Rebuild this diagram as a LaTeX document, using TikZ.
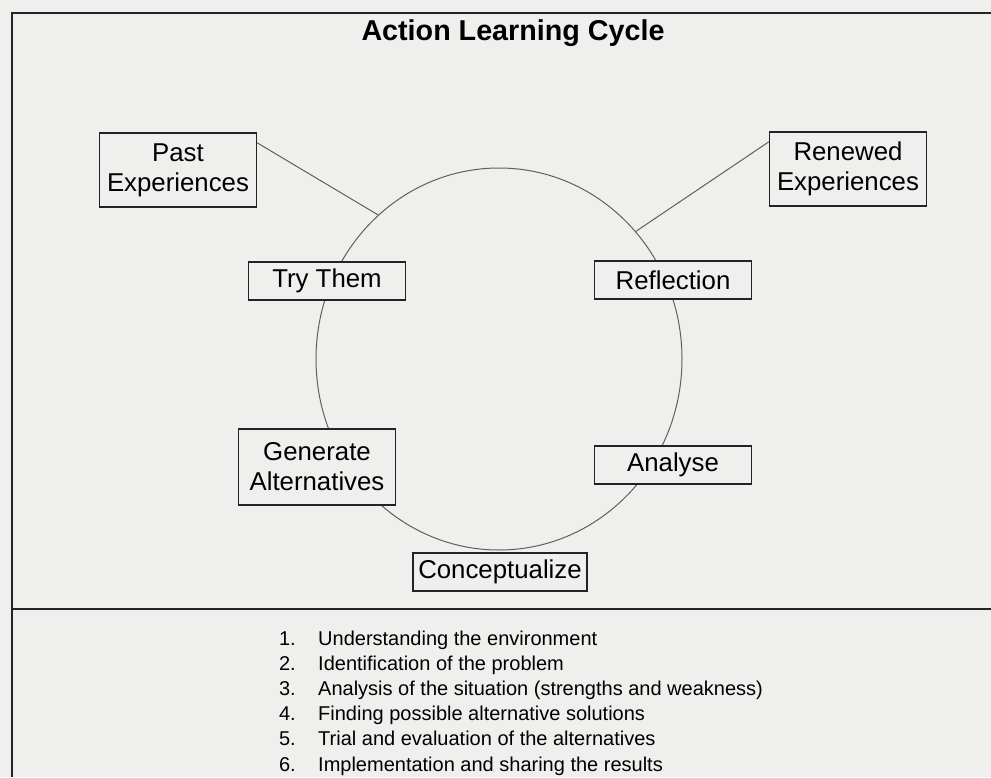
\documentclass[tikz,border=0pt]{standalone}
\usepackage{fontspec}
\setmainfont{Liberation Sans}
\usetikzlibrary{shapes.geometric,positioning,calc}
\definecolor{scanbg}{RGB}{239,239,237}
\definecolor{ink}{RGB}{35,35,35}
\definecolor{ringgray}{RGB}{95,95,95}

\begin{document}
\begin{tikzpicture}[x=1pt, y=-1pt,
    stage/.style={draw=ink, line width=1.2pt, fill=scanbg, rectangle, minimum width=157pt, minimum height=38pt, inner sep=0pt, align=center, font=\fontsize{25.8}{30}\selectfont},
    link/.style={draw=ringgray, line width=1pt},
    itemnum/.style={anchor=base east, inner sep=0pt, font=\fontsize{20}{24}\selectfont},
    itemtext/.style={anchor=base west, inner sep=0pt, font=\fontsize{20}{24}\selectfont}]
    % Page and frame
    \fill[scanbg] (0,0) rectangle (991,777);
    \useasboundingbox (0,0) rectangle (991,777);
    \draw[ink, line width=1.8pt] (991,13) -- (12,13) -- (12,777);
    \draw[ink, line width=1.8pt] (12,609) -- (991,609);
    % Title
    \node[anchor=base, inner sep=0pt, font=\bfseries\fontsize{28.7}{34}\selectfont] (title) at (513,40) {Action Learning Cycle};
    % The cycle
    \node[ellipse, draw=ringgray, line width=1pt, minimum width=366pt, minimum height=382pt, inner sep=0pt] (cycle) at (499,359) {};
    % Experiences outside the cycle
    \node[stage, minimum height=74pt] (past) at (178,170) {Past\\Experiences};
    \node[stage, minimum height=74pt] (renewed) at (848,169) {Renewed\\Experiences};
    % Stages on the cycle
    \node[stage] (try) at (327,281) {Try Them};
    \node[stage] (reflection) at (673,280) {Reflection};
    \node[stage, minimum height=76pt] (generate) at (317,467) {Generate\\Alternatives};
    \node[stage] (analyse) at (673,465) {Analyse};
    \node[stage, minimum width=174pt] (concept) at (500,572) {Conceptualize};
    % Links to the cycle
    \draw[link] (past.19) -- (cycle.130);
    \draw[link] (renewed.161) -- (cycle.43);
    % Steps list
    \foreach \k/\txt in {1/Understanding the environment, 2/Identification of the problem, 3/Analysis of the situation (strengths and weakness), 4/Finding possible alternative solutions, 5/Trial and evaluation of the alternatives, 6/Implementation and sharing the results}{
        \node[itemnum] (num\k) at (296,{619.8+25.2*\k}) {\k.};
        \node[itemtext] (item\k) at (318,{619.8+25.2*\k}) {\txt};
    }
\end{tikzpicture}
\end{document}
